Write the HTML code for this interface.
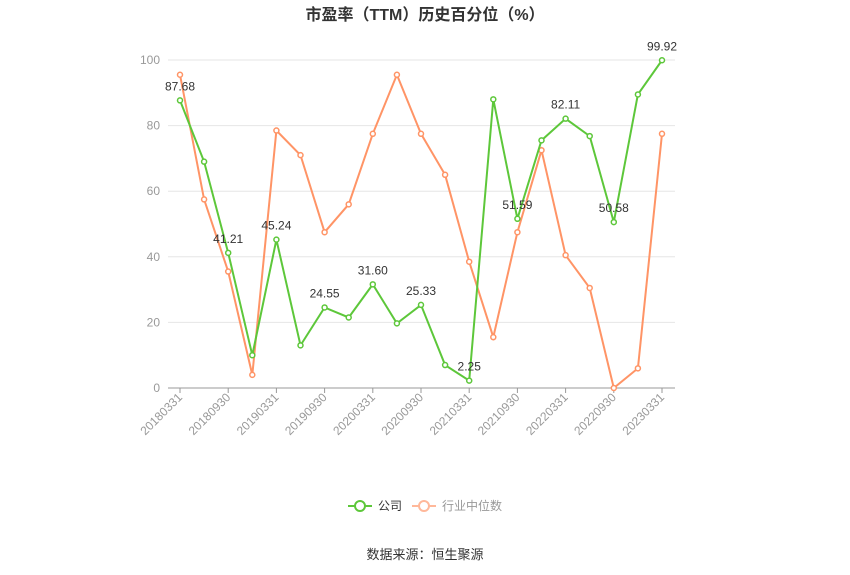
<!DOCTYPE html>
<html><head><meta charset="utf-8"><style>
body{margin:0;background:#fff;font-family:"Liberation Sans","Noto Sans CJK SC",sans-serif;}
svg{display:block}
</style></head><body>
<svg id="c" width="850" height="575" xmlns="http://www.w3.org/2000/svg">
<text x="425" y="20" text-anchor="middle" font-size="16" font-weight="bold" fill="#333" font-family="Liberation Sans, Noto Sans CJK SC, sans-serif">市盈率（TTM）历史百分位（%）</text>
<g id="grid"></g><g id="axes"></g><g id="series"></g>
<g>
<g>
<line x1="348" y1="506" x2="372" y2="506" stroke="#5dc73a" stroke-width="2"/>
<circle cx="360" cy="506" r="5" fill="#fff" stroke="#5dc73a" stroke-width="2"/>
<text x="378" y="510" font-size="12" fill="#333">公司</text></g>
<g>
<line x1="412" y1="506" x2="436" y2="506" stroke="#ffb89a" stroke-width="2"/>
<circle cx="424" cy="506" r="5" fill="#fff" stroke="#ffb89a" stroke-width="2"/>
<text x="442" y="510" font-size="12" fill="#999">行业中位数</text></g>
</g>
<text x="425" y="559" text-anchor="middle" font-size="13" fill="#333">数据来源：恒生聚源</text>
</svg>
<script>
const categories=["20180331","20180630","20180930","20181231","20190331","20190630","20190930","20191231","20200331","20200630","20200930","20201231","20210331","20210630","20210930","20211231","20220331","20220630","20220930","20221231","20230331"];
const companyValues=[87.68,69,41.21,10,45.24,13,24.55,21.5,31.60,19.7,25.33,7,2.25,88,51.59,75.5,82.11,76.8,50.58,89.5,99.92];
const industryValues=[95.5,57.5,35.5,4,78.5,71,47.5,56,77.5,95.5,77.5,65,38.5,15.5,47.5,72.5,40.5,30.5,0,6,77.5];
const yTicks=[0,20,40,60,80,100];
const labeledIdx=[0,2,4,6,8,10,12,14,16,18,20];
const NS="http://www.w3.org/2000/svg";
const X=i=>180+i*(662-180)/(categories.length-1);
const Y=v=>388-v*(388-60)/100;
function el(t,a,p){const e=document.createElementNS(NS,t);for(const k in a)e.setAttribute(k,a[k]);p.appendChild(e);return e;}
const grid=document.getElementById('grid'),axes=document.getElementById('axes'),ser=document.getElementById('series');
yTicks.forEach(v=>{
 const l=el('line',{x1:168,x2:675,y1:Y(v),y2:Y(v),stroke:v===0?'#999':'#e6e6e6','stroke-width':1},grid);
 
 
 const t=el('text',{x:160,y:Y(v)+4,'text-anchor':'end','font-size':12,fill:'#999'},axes);
 t.textContent=v;
 
 
});
labeledIdx.forEach(i=>{
 const x=X(i);
 el('line',{x1:x,x2:x,y1:388,y2:393,stroke:'#999'},axes);
 const t=el('text',{x:x+3,y:398,'text-anchor':'end','font-size':12,fill:'#999',transform:`rotate(-45 ${x+3} 398)`},axes);
 t.textContent=categories[i];
 
 
});
function series(vals,color,name){
 const p=el('polyline',{points:vals.map((v,i)=>X(i)+','+Y(v)).join(' '),fill:'none',stroke:color,'stroke-width':2},ser);
 
 
 vals.forEach((v,i)=>{
  const c=el('circle',{cx:X(i),cy:Y(v),r:2.5,fill:'#fff',stroke:color,'stroke-width':1.5},ser);
  
  
 });
}
series(industryValues,'#ff9466','industry-median');
series(companyValues,'#5dc73a','company');
[0,2,4,6,8,10,12,14,16,18,20].forEach(i=>{
 const t=el('text',{x:X(i),y:Y(companyValues[i])-10,'text-anchor':'middle','font-size':12,fill:'#333'},ser);
 t.textContent=companyValues[i].toFixed(2);
 
 
});
</script>
</body></html>
